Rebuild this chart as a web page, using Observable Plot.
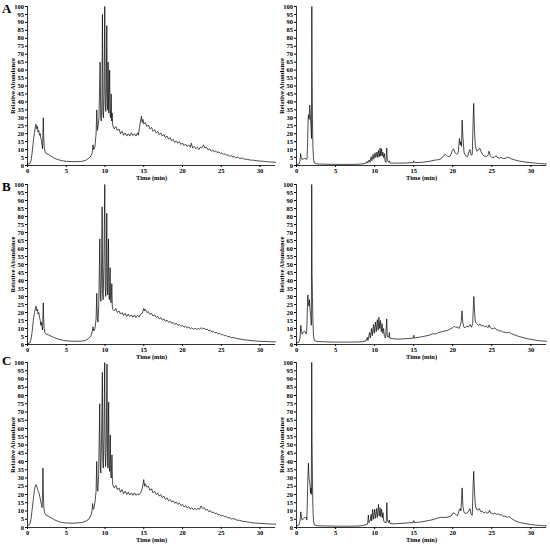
<!DOCTYPE html>
<html><head><meta charset="utf-8">
<script src="https://cdn.jsdelivr.net/npm/d3@7"></script>
<script src="https://cdn.jsdelivr.net/npm/@observablehq/plot@0.6"></script>
<style>
body{margin:0;background:#fff;}
#wrap{position:relative;width:550px;height:544px;overflow:hidden;font-family:"Liberation Serif",serif;}
.panel{position:absolute;}
.letter{position:absolute;font-weight:bold;font-size:13px;line-height:1;color:#000;}
</style></head><body><div id="wrap"></div>
<script>
// ---- tick labels ----
const timeTicks = [0, 5, 10, 15, 20, 25, 30];
const abundanceTicks = [0, 5, 10, 15, 20, 25, 30, 35, 40, 45, 50, 55, 60, 65, 70, 75, 80, 85, 90, 95, 100];
const panelLetters = ["A", "B", "C"];
const xLabel = "Time (min)";
const yLabel = "Relative Abundance";

// ---- series: [time (min), relative abundance] ----
const traceA_left = [[0,1],[0.3,1],[0.45,3],[0.6,8],[0.75,15],[0.9,21],[1.0,24],[1.1,26],[1.2,23],[1.28,24.5],[1.36,21],[1.45,22],[1.55,19],[1.65,20],[1.72,17],[1.8,16],[1.88,13],[1.94,10.5],[1.99,20],[2.04,30],[2.09,19],[2.15,12],[2.25,9],[2.4,7.5],[2.7,7],[3,6],[3.5,4.5],[4,3.6],[4.5,3],[5,2.6],[6,2.4],[7,2.6],[7.5,3.2],[7.9,4.5],
[8.2,6],[8.35,8],[8.45,13],[8.55,10],[8.7,12],[8.85,20],[8.94,35],[9.02,22],[9.12,25],[9.22,30],[9.37,65],[9.45,30],[9.52,28],[9.6,40],[9.67,95],[9.74,33],[9.8,30],[9.88,45],[9.97,100],[10.04,38],[10.1,34],[10.16,45],[10.23,88],[10.3,38],[10.35,35],[10.4,65],[10.45,36],[10.5,33],[10.6,60],[10.66,32],[10.72,30],[10.8,45],[10.86,28],[10.92,33],
[11.0,25],[11.2,23],[11.4,24.5],[11.6,22],[11.8,23],[12.0,20],[12.2,21.5],[12.4,19],[12.6,20.5],[12.8,18.5],[13.0,20],[13.2,18.5],[13.4,20.5],[13.6,18.8],[13.8,20],[14.0,18.5],[14.2,20.5],[14.3,19],[14.45,24],[14.6,28],[14.7,31],[14.8,27],[14.9,29],[15.0,26],[15.2,27],[15.4,24.5],[15.6,25.5],[15.8,23],[16.0,24],[16.2,21.5],[16.4,22.5],[16.6,20.5],[16.8,21.5],[17.0,19.5],[17.2,20.5],[17.4,18.5],[17.6,19.5],[17.8,17.5],[18.0,18.5],[18.2,16.5],[18.4,17.5],[18.6,15.5],[18.8,16.5],[19.0,14.5],[19.2,15.5],[19.4,14],[19.6,15],[19.8,13.2],[20.0,14.2],[20.2,12.5],[20.4,13.5],[20.6,12],[20.8,13],[21.0,11.5],[21.15,14],[21.3,11],[21.5,12],[21.7,10.5],[21.9,11.5],[22.1,10],[22.3,11.5],[22.5,11],[22.7,13],[22.9,11],[23.1,11.5],[23.3,9.8],[23.5,10.5],[23.7,9],[23.9,9.8],[24.1,8.5],[24.3,9.2],[24.5,8],[24.7,8.6],[24.9,7.4],[25.1,8],[25.3,7],[25.5,7.4],[25.7,6.3],[25.9,6.8],[26.1,5.8],[26.3,6.2],[26.5,5.3],[26.7,5.7],[26.9,4.8],[27.1,5.2],[27.4,4.5],[27.7,4.6],[28.0,4],[28.4,3.8],[28.8,3.4],[29.2,3.3],[29.6,3],[30,2.8],[30.5,2.6],[31,2.3],[31.5,2.2],[32,2]];

const traceA_right = [[0,0.5],[0.3,1],[0.45,3],[0.52,7.5],[0.6,5],[0.7,3.8],[0.9,4.2],[1.1,4.5],[1.25,3.8],[1.35,4],[1.42,15],[1.5,30],[1.55,32],[1.62,29],[1.7,38],[1.76,33],[1.82,27],[1.88,22],[1.92,17],[1.96,100],[2.0,52],[2.04,30],[2.1,12],[2.18,4],[2.3,1.5],[2.6,1],[3,0.9],[4,0.8],[5,0.7],[6,0.7],[7,0.7],[8,0.8],[8.5,1],[8.9,1.5],[9.0,2.5],[9.1,1.5],[9.3,3.5],[9.4,2],[9.55,5.5],[9.65,3],[9.8,7],[9.9,4],[10.05,8],[10.15,5],[10.3,8.5],[10.4,5],[10.5,9.5],[10.6,5.5],[10.7,11],[10.78,6],[10.88,10.5],[10.96,6],[11.05,8.5],[11.15,5],[11.25,7.5],[11.32,3],[11.45,2],[11.55,11],[11.63,3],[11.8,2],[11.88,3],[12,1.5],[13,1.5],[14,1.6],[14.95,1.8],[15.02,3],[15.1,1.8],[16,2],[17,2.6],[17.6,3.3],[18,3.5],[18.5,4.2],[18.9,6.5],[19.1,7],[19.4,5.5],[19.7,6],[19.95,9.5],[20.1,10.5],[20.3,8],[20.5,7],[20.7,8],[20.85,17],[20.95,13],[21.05,15],[21.12,12],[21.2,28.5],[21.3,18],[21.45,8],[21.7,6],[21.9,5.5],[22.1,9],[22.2,10],[22.35,6.5],[22.5,7],[22.62,30],[22.68,39],[22.78,22],[22.9,12],[23.1,9],[23.3,10],[23.45,11],[23.6,9],[23.8,7],[24,6],[24.3,5.5],[24.55,7],[24.65,9],[24.8,6],[25,5.2],[25.3,5],[25.55,6.3],[25.7,5],[26,4.6],[26.2,5.2],[26.4,4.5],[26.7,4.4],[27,5.2],[27.2,5],[27.5,4.2],[28,3.4],[28.5,2.8],[29,2.4],[29.5,2],[30,1.8],[30.5,1.5],[31,1.3],[31.5,1.1],[32,1]];

const traceB_left = [[0,0.5],[0.3,1],[0.45,3],[0.6,8],[0.75,15],[0.9,20],[1.0,22],[1.1,24],[1.2,21],[1.28,22],[1.36,19],[1.45,20],[1.55,17],[1.65,15],[1.72,12],[1.8,14],[1.88,11],[1.94,9],[1.99,18],[2.04,26],[2.09,16],[2.15,10],[2.25,7.5],[2.4,6.5],[2.7,6],[3,5.3],[3.5,4.2],[4,3.3],[4.5,2.7],[5,2.3],[6,2],[7,2.1],[7.5,2.6],[7.9,3.8],
[8.2,5.5],[8.35,8],[8.45,11],[8.55,8.5],[8.7,10],[8.85,16],[8.94,32],[9.02,16],[9.1,14],[9.2,25],[9.33,66],[9.4,30],[9.47,27],[9.55,45],[9.63,86],[9.7,32],[9.76,28],[9.86,50],[9.97,100],[10.03,36],[10.09,30],[10.16,45],[10.23,82],[10.29,35],[10.34,31],[10.45,66],[10.5,32],[10.56,28],[10.66,48],[10.72,28],[10.78,26],[10.88,38],[10.94,24],
[11.0,22],[11.2,21],[11.4,22.5],[11.6,20],[11.8,21],[12.0,19],[12.2,20],[12.4,18],[12.6,19.5],[12.8,17.5],[13.0,19],[13.2,17.5],[13.4,18.5],[13.6,17],[13.8,18.5],[14.0,16.8],[14.2,18.3],[14.4,17.2],[14.6,19],[14.8,19.5],[14.9,21],[15.0,22.5],[15.1,21],[15.2,22],[15.4,20],[15.6,20.5],[15.8,18.8],[16.0,19.5],[16.2,17.8],[16.4,18.5],[16.6,17],[16.8,17.6],[17.0,16],[17.2,16.8],[17.4,15.2],[17.6,16],[17.8,14.5],[18.0,15.2],[18.2,13.8],[18.4,14.5],[18.6,13.2],[18.8,13.8],[19.0,12.5],[19.2,13.3],[19.4,12],[19.6,12.6],[19.8,11.4],[20.0,12],[20.2,10.8],[20.4,11.5],[20.6,10.3],[20.8,11],[21.0,9.8],[21.2,10.5],[21.4,9.5],[21.6,10.2],[21.8,9.4],[22.0,10],[22.2,9.6],[22.4,10.5],[22.6,9.8],[22.8,10.3],[23.0,9.2],[23.2,9.6],[23.4,8.5],[23.6,8.9],[23.8,7.8],[24.0,8.2],[24.2,7.2],[24.4,7.6],[24.6,6.6],[24.8,7],[25.0,6],[25.2,6.4],[25.4,5.4],[25.6,5.8],[25.8,4.8],[26.0,5],[26.3,4.3],[26.6,4.4],[27.0,3.7],[27.4,3.5],[27.8,3],[28.3,2.8],[28.8,2.5],[29.4,2.2],[30,2],[31,1.8],[32,1.6]];

const traceB_right = [[0,1],[0.3,1.5],[0.45,4],[0.55,12],[0.63,8],[0.72,6.5],[0.85,7.5],[1.0,8.5],[1.1,8],[1.2,6.5],[1.3,7],[1.38,20],[1.45,31],[1.52,26],[1.6,24],[1.66,28],[1.74,21],[1.82,18],[1.9,12],[1.95,100],[1.99,45],[2.04,30],[2.1,15],[2.18,5],[2.3,2.5],[2.6,2],[3,1.8],[4,1.6],[5,1.5],[6,1.5],[7,1.5],[8,1.6],[8.5,1.8],[8.9,2.2],[9.05,4.5],[9.15,2.5],[9.35,7.5],[9.45,4],[9.6,10],[9.7,5.5],[9.85,12.5],[9.95,7],[10.1,14],[10.2,8],[10.35,15.5],[10.45,9],[10.55,17],[10.65,10],[10.75,15],[10.85,8],[10.95,13],[11.05,7],[11.15,10],[11.25,5],[11.4,4],[11.55,16],[11.62,5],[11.8,4.5],[11.88,7.5],[11.95,4],[12.5,3.5],[13,3.4],[14,3.6],[14.95,4],[15.02,5.8],[15.1,4],[16,4.8],[17,5.8],[17.5,6.8],[17.8,6.5],[18.2,7.5],[18.6,8],[19,8.5],[19.3,8.8],[19.6,9.5],[20,10.5],[20.2,11.5],[20.4,10.5],[20.6,11],[20.8,10],[21.0,12.5],[21.1,15],[21.18,21],[21.28,14],[21.4,11],[21.6,10.5],[21.8,11.5],[22,11],[22.2,12.5],[22.4,10.8],[22.55,13],[22.65,25],[22.7,30],[22.8,20],[22.9,14],[23.1,13],[23.3,12],[23.5,12.8],[23.7,11.5],[23.9,12],[24.1,11],[24.3,11.5],[24.5,10.5],[24.65,12.2],[24.8,10.5],[25,10],[25.2,9.8],[25.4,10.5],[25.6,9.2],[25.8,9],[26,8.4],[26.2,8.6],[26.4,7.8],[26.7,7.6],[27,7.3],[27.2,7.8],[27.5,6.8],[28,5.8],[28.5,5],[29,4.3],[29.5,3.7],[30,3.2],[30.5,2.8],[31,2.4],[31.5,2.2],[32,2]];

const traceC_left = [[0,1],[0.3,2],[0.45,5],[0.6,11],[0.75,17],[0.9,23],[1.0,25],[1.1,26],[1.2,25],[1.3,23],[1.4,22],[1.5,20.5],[1.6,18.5],[1.7,16],[1.8,14],[1.88,12],[1.94,20],[1.99,36],[2.04,22],[2.1,13],[2.2,9],[2.4,7.5],[2.7,6.8],[3,6],[3.5,4.6],[4,3.6],[4.5,3],[5,2.7],[6,2.6],[7,3],[7.5,3.8],[7.9,5],
[8.2,7.5],[8.32,10],[8.4,14.5],[8.48,11],[8.6,12],[8.75,17],[8.85,22],[8.93,40],[9.0,24],[9.08,22],[9.18,32],[9.32,75],[9.39,38],[9.46,33],[9.56,55],[9.66,94],[9.72,40],[9.78,36],[9.86,55],[9.96,100],[10.02,45],[10.08,37],[10.16,50],[10.26,99],[10.32,42],[10.38,36],[10.47,76],[10.53,38],[10.6,34],[10.68,56],[10.74,33],[10.8,30],[10.9,44],[10.96,28],
[11.0,26],[11.2,24],[11.4,25.5],[11.6,23],[11.8,24],[12.0,21.5],[12.2,23],[12.4,20.5],[12.6,22],[12.8,20],[13.0,21.5],[13.2,19.8],[13.4,21],[13.6,19.5],[13.8,21],[14.0,19.5],[14.2,20.5],[14.4,19.8],[14.6,21],[14.8,23.5],[14.9,26],[15.0,29],[15.1,25],[15.2,26.5],[15.4,24.5],[15.6,25],[15.8,22.5],[16.0,23.5],[16.2,21],[16.4,22],[16.6,20],[16.8,21],[17.0,19],[17.2,20],[17.4,18],[17.6,19],[17.8,17],[18.0,18],[18.2,16.2],[18.4,17],[18.6,15.5],[18.8,16.2],[19.0,14.7],[19.2,15.5],[19.4,14],[19.6,14.8],[19.8,13.2],[20.0,14],[20.2,12.5],[20.4,13.2],[20.6,11.8],[20.8,12.6],[21.0,11.2],[21.2,12],[21.4,10.8],[21.6,11.6],[21.8,10.8],[22.0,11.8],[22.2,11],[22.4,13],[22.6,11.5],[22.8,12],[23.0,10.5],[23.2,11],[23.4,9.6],[23.6,10.2],[23.8,9],[24.0,9.4],[24.2,8.3],[24.4,8.8],[24.6,7.6],[24.8,8],[25.0,7],[25.2,7.4],[25.4,6.4],[25.6,6.8],[25.8,5.8],[26.0,6.1],[26.3,5.2],[26.6,5.4],[27.0,4.5],[27.4,4.3],[27.8,3.7],[28.3,3.4],[28.8,3],[29.4,2.7],[30,2.5],[31,2.2],[32,2]];

const traceC_right = [[0,1],[0.3,1.5],[0.45,4],[0.55,9.5],[0.63,6],[0.72,4.5],[0.9,5.5],[1.1,6],[1.25,6.2],[1.32,4.5],[1.4,18],[1.47,32],[1.53,39],[1.6,30],[1.67,28],[1.74,26],[1.8,21],[1.86,24],[1.9,20],[1.95,100],[1.99,52],[2.04,30],[2.1,12],[2.18,4],[2.3,1.5],[2.6,1.1],[3,1],[4,0.9],[5,0.8],[6,0.8],[7,0.8],[8,0.9],[8.5,1.2],[8.9,1.8],[9.1,2],[9.2,7.5],[9.28,3],[9.45,4.5],[9.55,8],[9.62,4],[9.75,11],[9.83,5],[10.0,11],[10.08,5.5],[10.25,11.5],[10.33,6],[10.5,14],[10.58,7],[10.7,12],[10.78,6.5],[10.9,11],[10.98,6],[11.08,9],[11.16,4],[11.3,3],[11.48,3],[11.56,15],[11.64,4],[11.8,3],[11.88,4.5],[11.95,2.5],[12.5,2.2],[13,2.4],[14,2.7],[14.95,3],[15.02,4.2],[15.1,3],[16,3.4],[17,4.3],[17.5,4.8],[18,5.6],[18.5,6.2],[19,6],[19.5,6.5],[19.8,7],[20.05,9],[20.2,8.5],[20.4,8],[20.6,7],[20.8,10],[20.95,11.5],[21.05,10],[21.2,24],[21.3,13],[21.45,9],[21.7,8.5],[21.9,9],[22.1,10.5],[22.2,11.5],[22.35,8],[22.5,7.5],[22.6,25],[22.68,34],[22.78,22],[22.9,13],[23.05,11],[23.25,10.5],[23.4,11.5],[23.6,9.5],[23.8,9.8],[24,8.8],[24.2,9.4],[24.4,8.6],[24.6,9.2],[24.7,10.5],[24.85,8.8],[25,8.6],[25.2,8.2],[25.4,8.8],[25.6,8],[25.8,8.3],[26,7.6],[26.2,7.8],[26.4,7],[26.7,6.8],[27,6.2],[27.2,6.7],[27.5,5.5],[28,4],[28.5,3.1],[29,2.6],[29.5,2.2],[30,1.8],[30.5,1.5],[31,1.3],[31.5,1.1],[32,1]];

// ---- layout ----
const wrap = document.getElementById("wrap");
const rows = [
  {top: 0,   inner: 159, left: traceA_left, right: traceA_right, letterTop: 2},
  {top: 178, inner: 160, left: traceB_left, right: traceB_right, letterTop: 180},
  {top: 356, inner: 165, left: traceC_left, right: traceC_right, letterTop: 354}
];
const cols = [
  {left: 0,   width: 280, mL: 27, mR: 5},
  {left: 275, width: 275, mL: 21, mR: 4}
];

function panel(data, col, row) {
  const mT = 6, mB = 18;
  const chart = Plot.plot({
    width: col.width,
    height: mT + row.inner + mB,
    marginLeft: col.mL, marginRight: col.mR, marginTop: mT, marginBottom: mB,
    style: {background: "transparent", fontFamily: "'Liberation Serif', serif", fontWeight: "bold", fontSize: "6.5px", color: "#000", overflow: "visible"},
    x: {domain: [0, 32]},
    y: {domain: [0, 100]},
    marks: [
      Plot.axisY(abundanceTicks, {tickSize: 2, tickPadding: 1.5, label: yLabel, labelAnchor: "center", labelArrow: "none", labelOffset: 17}),
      Plot.axisX(timeTicks, {tickSize: 2, tickPadding: 1, label: xLabel, labelAnchor: "center", labelArrow: "none", labelOffset: 14}),
      Plot.ruleX([0], {stroke: "#000", strokeWidth: 0.8}),
      Plot.ruleY([0], {stroke: "#000", strokeWidth: 0.8}),
      Plot.line(data, {x: d => d[0], y: d => d[1], stroke: "#000", strokeWidth: 0.7})
    ]
  });
  chart.classList.add("panel");
  chart.style.left = col.left + "px";
  chart.style.top = row.top + "px";
  chart.style.position = "absolute";
  wrap.appendChild(chart);
}

rows.forEach((row, i) => {
  panel(row.left, cols[0], row);
  panel(row.right, cols[1], row);
  const L = document.createElement("div");
  L.className = "letter";
  L.textContent = panelLetters[i];
  L.style.left = "2px";
  L.style.top = row.letterTop + "px";
  wrap.appendChild(L);
});
</script></body></html>
